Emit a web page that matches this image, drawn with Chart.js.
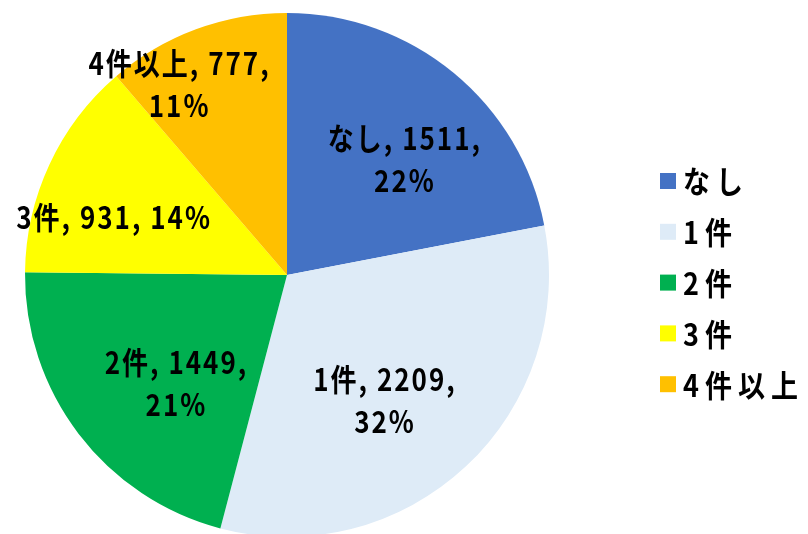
<!DOCTYPE html>
<html><head><meta charset="utf-8">
<script src="https://cdn.jsdelivr.net/npm/chart.js@4"></script>
<style>html,body{margin:0;padding:0;overflow:hidden;background:#fff;width:808px;height:534px}#wrap{width:808px;height:545px;position:relative}</style>
</head><body><div id="wrap"><canvas id="c" width="808" height="545"></canvas></div>
<script>
const categories = ['なし', '1件', '2件', '3件', '4件以上'];
const counts = [1511, 2209, 1449, 931, 777];
const percents = ['22%', '32%', '21%', '14%', '11%'];
const colors = ['#4472C4', '#DEEBF7', '#00B050', '#FFFF00', '#FFC000'];
// label layout: line breaks and placement (offset from pie centre in radius units)
const labelLines = [
  ['なし, 1511,', '22%'],
  ['1件, 2209,', '32%'],
  ['2件, 1449,', '21%'],
  ['3件, 931, 14%'],
  ['4件以上, 777,', '11%']
];
const labelPos = [[0.45,-0.44],[0.374,0.479],[-0.422,0.412],[-0.66,-0.22],[-0.41,-0.729]];

const FONT = 'bold 26px "Noto Sans CJK JP"';
function drawText(ctx, t, x, y, sy) {
  ctx.save();
  ctx.translate(x, y);
  ctx.scale(1, sy);
  ctx.fillText(t, 0, 0);
  ctx.restore();
}
const labelPlugin = {
  id: 'labels',
  afterDatasetsDraw(chart) {
    const ctx = chart.ctx;
    const arc0 = chart.getDatasetMeta(0).data[0];
    const cx = arc0.x, cy = arc0.y, r = arc0.outerRadius;
    ctx.save();
    ctx.font = FONT;
    ctx.letterSpacing = '2px';
    ctx.fillStyle = '#000';
    ctx.textAlign = 'center';
    ctx.textBaseline = 'middle';
    labelLines.forEach((lines, i) => {
      const x = cx + labelPos[i][0] * r;
      const y = cy + labelPos[i][1] * r;
      const lh = 42;
      const y0 = y - (lines.length - 1) * lh / 2;
      lines.forEach((t, j) => drawText(ctx, t, x, y0 + j * lh, 1.18));
    });
    // legend
    ctx.textAlign = 'left';
    ctx.font = 'bold 27px "Noto Sans CJK JP"';
    ctx.letterSpacing = '6px';
    const lx = 660, ly = 181, step = 50.8;
    categories.forEach((c, i) => {
      const y = ly + i * step;
      ctx.fillStyle = colors[i];
      ctx.fillRect(lx, y - 8, 16, 16);
      ctx.fillStyle = '#000';
      drawText(ctx, c, lx + 23, y + 1, 1.12);
    });
    ctx.restore();
  }
};

new Chart(document.getElementById('c'), {
  type: 'pie',
  data: {
    labels: categories,
    datasets: [{ data: counts, backgroundColor: colors, borderWidth: 0 }]
  },
  options: {
    responsive: false,
    animation: false,
    layout: { padding: { left: 25, right: 259, top: 13, bottom: 8 } },
    plugins: { legend: { display: false }, tooltip: { enabled: false } }
  },
  plugins: [labelPlugin]
});
</script></body></html>
